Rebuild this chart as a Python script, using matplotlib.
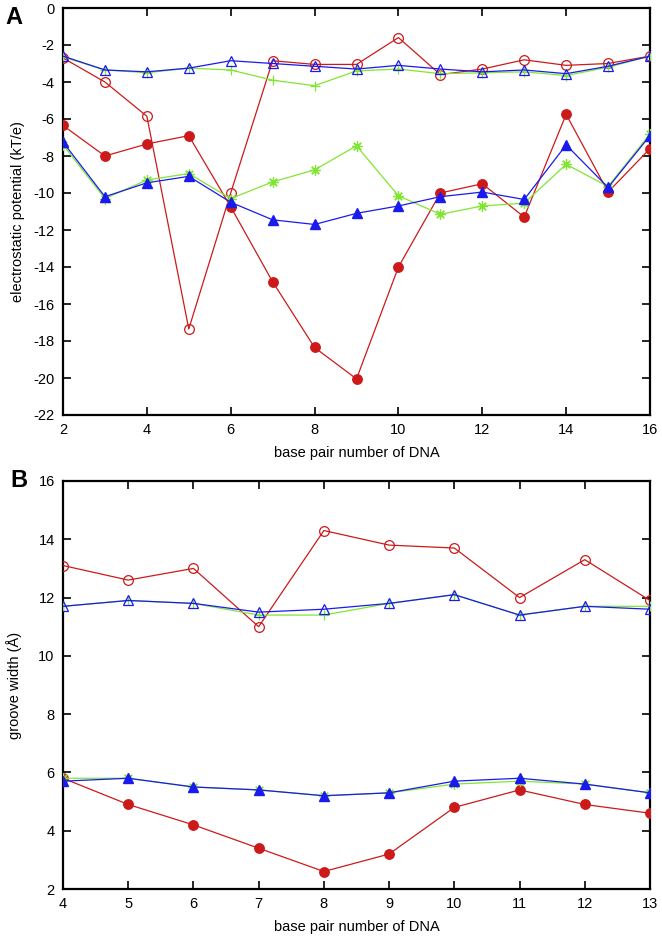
import matplotlib
matplotlib.use("Agg")
import matplotlib.pyplot as plt

plt.rcParams['font.family'] = ['Liberation Sans', 'DejaVu Sans']
plt.rcParams['axes.unicode_minus'] = False

# ---- Panel A data ----
bp_a = [2, 3, 4, 5, 6, 7, 8, 9, 10, 11, 12, 13, 14, 15, 16]
a_red_open = [-2.7, -4.0, -5.85, -17.35, -10.0, -2.85, -3.05, -3.05, -1.6, -3.6, -3.3, -2.8, -3.1, -3.0, -2.6]
a_green_plus = [-2.65, -3.35, -3.5, -3.25, -3.35, -3.9, -4.2, -3.4, -3.3, -3.55, -3.5, -3.45, -3.65, -3.2, -2.6]
a_blue_open = [-2.6, -3.35, -3.45, -3.25, -2.85, -3.0, -3.15, -3.3, -3.1, -3.3, -3.45, -3.35, -3.55, -3.15, -2.6]
a_red_fill = [-6.35, -8.0, -7.35, -6.9, -10.75, -14.8, -18.35, -20.05, -14.0, -10.0, -9.5, -11.3, -5.75, -9.95, -7.6]
a_green_ast = [-7.4, -10.3, -9.3, -8.95, -10.3, -9.4, -8.75, -7.45, -10.15, -11.15, -10.7, -10.55, -8.45, -9.65, -6.8]
a_blue_fill = [-7.25, -10.2, -9.45, -9.1, -10.5, -11.45, -11.7, -11.1, -10.7, -10.2, -9.95, -10.35, -7.4, -9.7, -6.9]

# ---- Panel B data ----
bp_b = [4, 5, 6, 7, 8, 9, 10, 11, 12, 13]
b_red_open = [13.1, 12.6, 13.0, 11.0, 14.3, 13.8, 13.7, 12.0, 13.3, 11.9]
b_green_plus = [11.7, 11.9, 11.8, 11.4, 11.4, 11.8, 12.1, 11.4, 11.7, 11.7]
b_blue_open = [11.7, 11.9, 11.8, 11.5, 11.6, 11.8, 12.1, 11.4, 11.7, 11.6]
b_red_fill = [5.8, 4.9, 4.2, 3.4, 2.6, 3.2, 4.8, 5.4, 4.9, 4.6]
b_green_ast = [5.8, 5.8, 5.5, 5.4, 5.2, 5.3, 5.6, 5.7, 5.6, 5.3]
b_blue_fill = [5.7, 5.8, 5.5, 5.4, 5.2, 5.3, 5.7, 5.8, 5.6, 5.3]

RED = '#cc1a1a'
GREEN = '#80e632'
BLUE = '#1a1aee'

fig = plt.figure(figsize=(6.62, 9.38), dpi=100)
axA = fig.add_axes([63/662, 1-415/938, (650-63)/662, (415-8)/938])
axB = fig.add_axes([63/662, 1-889/938, (650-63)/662, (889-481)/938])

def draw(ax, x, ro, gp, bo, rf, ga, bf):
    lw = 0.9
    ax.plot(x, ro, color=RED, lw=lw, marker='o', ms=7, mfc='none', mec=RED, mew=0.9, zorder=3)
    ax.plot(x, gp, color=GREEN, lw=lw, marker='+', ms=7.5, mec=GREEN, mew=0.9, zorder=3)
    ax.plot(x, bo, color=BLUE, lw=lw, marker='^', ms=6.5, mfc='none', mec=BLUE, mew=0.9, zorder=3)
    ax.plot(x, rf, color=RED, lw=lw, marker='o', ms=6.8, mfc=RED, mec=RED, zorder=4)
    ax.plot(x, ga, color=GREEN, lw=lw, marker=(8, 2, 0), ms=7.5, mec=GREEN, mew=0.9, zorder=4)
    ax.plot(x, bf, color=BLUE, lw=lw, marker='^', ms=6.5, mfc=BLUE, mec=BLUE, zorder=4)
    for s in ax.spines.values():
        s.set_linewidth(1.6)
    ax.tick_params(direction='in', length=6, width=1.2, top=True, right=True,
                   labelsize=10.5, pad=6)

draw(axA, bp_a, a_red_open, a_green_plus, a_blue_open, a_red_fill, a_green_ast, a_blue_fill)
axA.set_xlim(2, 16)
axA.set_ylim(-22, 0)
axA.set_xticks(range(2, 17, 2))
axA.set_yticks(range(-22, 1, 2))
axA.set_xlabel('base pair number of DNA', fontsize=10.5, labelpad=6)
axA.set_ylabel('electrostatic potential (kT/e)', fontsize=10.5, labelpad=6)

draw(axB, bp_b, b_red_open, b_green_plus, b_blue_open, b_red_fill, b_green_ast, b_blue_fill)
axB.set_xlim(4, 13)
axB.set_ylim(2, 16)
axB.set_xticks(range(4, 14))
axB.set_yticks(range(2, 17, 2))
axB.set_xlabel('base pair number of DNA', fontsize=10.5, labelpad=6)
axB.set_ylabel('groove width (\u00c5)', fontsize=10.5, labelpad=12)

fig.text(5/662, 1-18/938, 'A', fontsize=17, fontweight='bold', va='center', ha='left')
fig.text(10/662, 1-480/938, 'B', fontsize=17, fontweight='bold', va='center', ha='left')

fig.savefig('out.png', dpi=100)
